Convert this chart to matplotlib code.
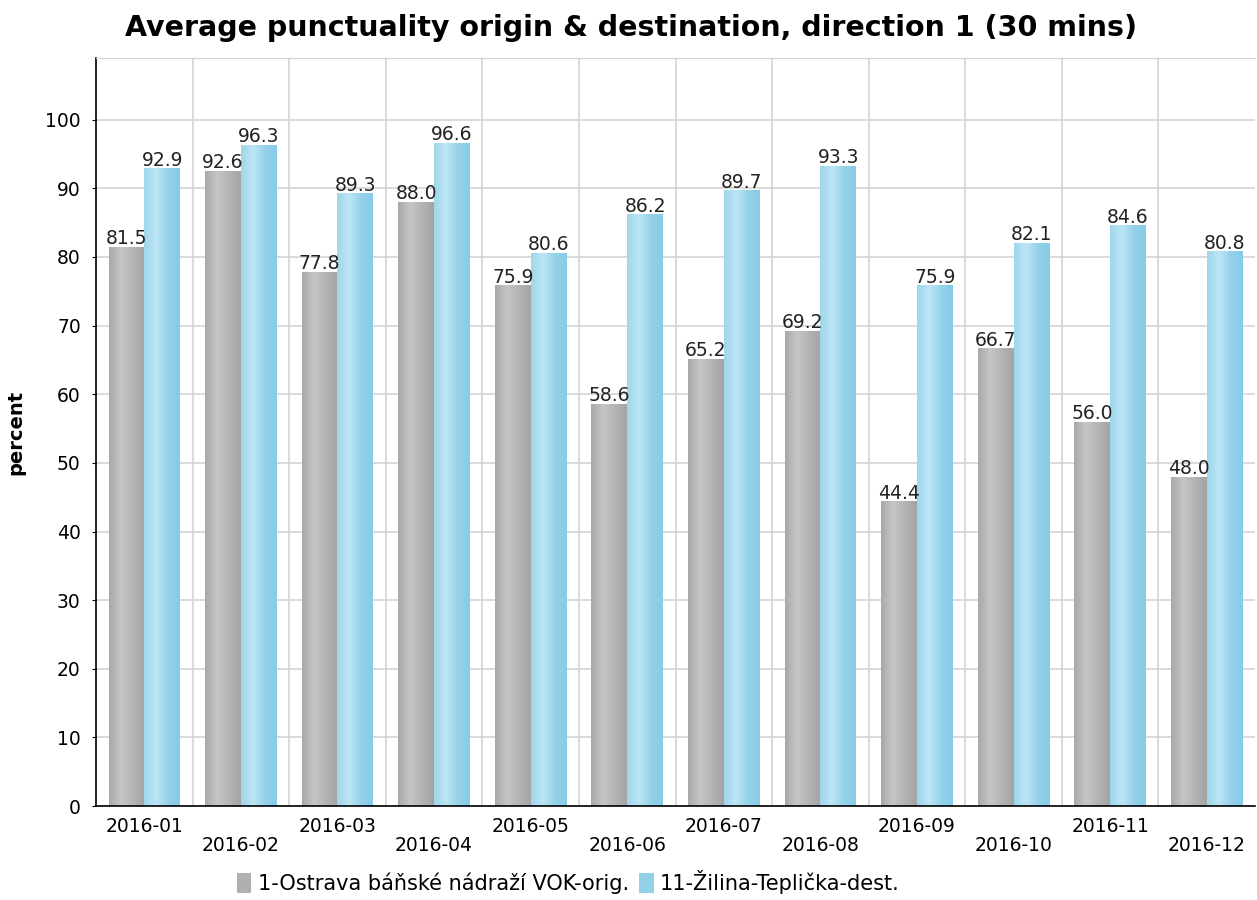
import numpy as np
import matplotlib.pyplot as plt
from matplotlib.colors import LinearSegmentedColormap

months = ["2016-01", "2016-02", "2016-03", "2016-04", "2016-05", "2016-06",
          "2016-07", "2016-08", "2016-09", "2016-10", "2016-11", "2016-12"]
orig_vals = [81.5, 92.6, 77.8, 88.0, 75.9, 58.6, 65.2, 69.2, 44.4, 66.7, 56.0, 48.0]
dest_vals = [92.9, 96.3, 89.3, 96.6, 80.6, 86.2, 89.7, 93.3, 75.9, 82.1, 84.6, 80.8]
orig_name = "1-Ostrava báňské nádraží VOK-orig."
dest_name = "11-Žilina-Teplička-dest."

gray_cmap = LinearSegmentedColormap.from_list("g", ["#a9a9a9", "#c6c6c6", "#b4b4b4", "#a4a4a4"])
blue_cmap = LinearSegmentedColormap.from_list("b", ["#9fd6ec", "#bde6f5", "#95d2ea", "#86cbe7"])

fig = plt.figure(figsize=(12.57, 9), dpi=100)
ax = fig.add_axes([0.0764, 0.1044, 0.922, 0.8312])

x = np.arange(len(months))
w = 0.37
b1 = ax.bar(x - w / 2, orig_vals, w, color="#b0b0b0", label=orig_name, zorder=2)
b2 = ax.bar(x + w / 2, dest_vals, w, color="#93d0ea", label=dest_name, zorder=2)

# horizontal gradient inside each bar
grad = np.linspace(0, 1, 64).reshape(1, -1)
for bars, cmap in ((b1, gray_cmap), (b2, blue_cmap)):
    for r in bars:
        x0, y0 = r.get_x(), r.get_y()
        im = ax.imshow(grad, cmap=cmap, aspect="auto", zorder=2.5,
                       extent=(x0, x0 + r.get_width(), y0, y0 + r.get_height()))
        im.set_clip_path(r)
        ax.text(x0 + r.get_width() / 2, r.get_height() - 0.2, f"{r.get_height():.1f}",
                ha="center", va="bottom", fontsize=13.5, color="#222222", zorder=4)

ax.set_xlim(-0.5, len(months) - 0.5)
ax.set_ylim(0, 109)
ax.set_yticks(range(0, 101, 10))
ax.set_xticks(x)
ax.set_xticklabels([m if i % 2 == 0 else "\n" + m for i, m in enumerate(months)])
for lbl in ax.get_xticklabels():
    lbl.set_linespacing(1.0)
ax.set_xticks(x[:-1] + 0.5, minor=True)
ax.tick_params(axis="x", which="major", length=0, labelsize=13.5, pad=8)
ax.tick_params(axis="x", which="minor", length=0)
ax.tick_params(axis="y", labelsize=13.5, length=3, pad=8)
ax.grid(axis="y", color="#d4d4d4", linewidth=1.2, zorder=0)
ax.grid(axis="x", which="minor", color="#d4d4d4", linewidth=1.2, zorder=0)
ax.set_axisbelow(True)
ax.spines["top"].set_color("#d4d4d4")
ax.spines["right"].set_visible(False)
ax.spines["left"].set_linewidth(1.2)
ax.spines["bottom"].set_linewidth(1.2)

ax.set_ylabel("percent", fontsize=14, fontweight="bold", labelpad=14)
fig.suptitle("Average punctuality origin & destination, direction 1 (30 mins)",
             fontsize=20.5, fontweight="bold", x=0.502, y=0.985)

fig.legend(handles=[b1, b2], loc="lower center", bbox_to_anchor=(0.452, -0.014),
           ncol=2, frameon=False, fontsize=15, handlelength=0.7, handleheight=1.1,
           handletextpad=0.3, columnspacing=0.5)

fig.savefig("out.png", dpi=100)
